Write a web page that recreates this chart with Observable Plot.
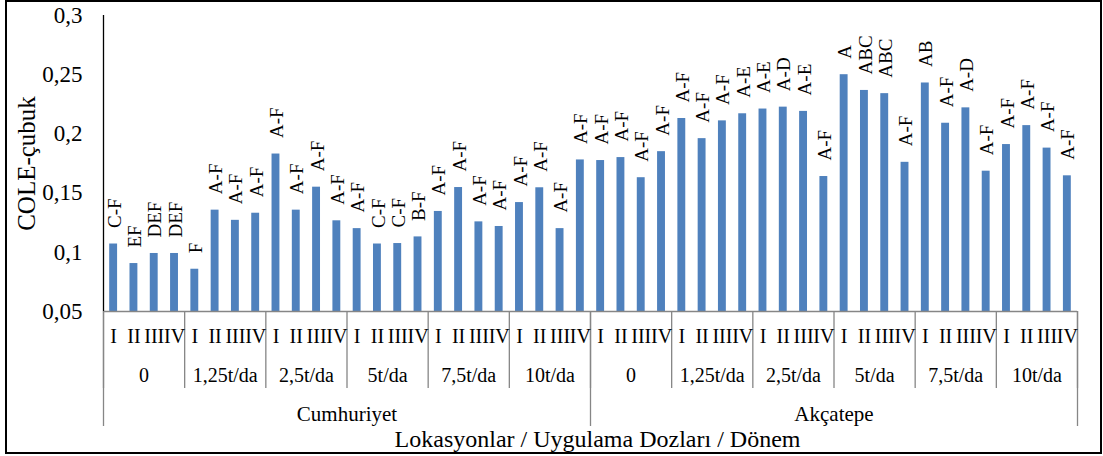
<!DOCTYPE html>
<html><head><meta charset="utf-8">
<script src="https://cdn.jsdelivr.net/npm/d3@7"></script>
<script src="https://cdn.jsdelivr.net/npm/@observablehq/plot@0.6"></script>
<style>
body{margin:0;background:#fff;}
#wrap{position:relative;width:1103px;height:456px;overflow:hidden;}
#wrap svg{position:absolute;left:0;top:0;}
#wrap svg, #wrap svg text, #wrap svg g {font-family:"Liberation Serif","Times New Roman",serif !important;}
#border{position:absolute;left:5px;top:0;width:1097px;height:454px;box-sizing:border-box;border:2px solid #000;pointer-events:none;}
</style></head><body><div id="wrap"><div id="border"></div></div>
<script>
const locations = ["Cumhuriyet", "Akçatepe"];
const doses = ["0", "1,25t/da", "2,5t/da", "5t/da", "7,5t/da", "10t/da"];
const periods = ["I", "II", "III", "IV"];
const cumhuriyetValues = [0.107, 0.0905, 0.099, 0.099, 0.0857, 0.1356, 0.127, 0.133, 0.183, 0.1356, 0.155, 0.1266, 0.120, 0.107, 0.1074, 0.113, 0.1345, 0.1547, 0.1257, 0.1218, 0.142, 0.1545, 0.120, 0.178];
const akcatepeValues = [0.1775, 0.180, 0.163, 0.185, 0.213, 0.196, 0.211, 0.217, 0.221, 0.2226, 0.219, 0.164, 0.250, 0.2367, 0.234, 0.176, 0.243, 0.209, 0.222, 0.1685, 0.191, 0.207, 0.188, 0.1646];
const cumhuriyetLetters = ["C-F","EF","DEF","DEF","F","A-F","A-F","A-F","A-F","A-F","A-F","A-F","A-F","C-F","C-F","B-F","A-F","A-F","A-F","A-F","A-F","A-F","A-F","A-F"];
const akcatepeLetters = ["A-F","A-F","A-F","A-F","A-F","A-F","A-F","A-E","A-E","A-D","A-E","A-F","A","ABC","ABC","A-F","AB","A-F","A-D","A-F","A-F","A-F","A-F","A-F"];
const yTicks = [0.05, 0.1, 0.15, 0.2, 0.25, 0.3];
const yTitle = "COLE-çubuk";
const xTitle = "Lokasyonlar / Uygulama Dozları / Dönem";

const valuesByLoc = [cumhuriyetValues, akcatepeValues];
const lettersByLoc = [cumhuriyetLetters, akcatepeLetters];
const data = [];
locations.forEach((loc, li) => doses.forEach((dose, di) => periods.forEach((p, pi) => {
  const k = di * periods.length + pi;
  data.push({i: data.length, location: loc, dose, period: p, value: valuesByLoc[li][k], letter: lettersByLoc[li][k]});
})));
const nBars = data.length;
const doseGroups = [];
locations.forEach((loc, li) => doses.forEach((dose, di) => doseGroups.push({start: (li * doses.length + di) * periods.length, label: dose})));
const locGroups = locations.map((loc, li) => ({start: li * doses.length * periods.length, label: loc}));
const doseBounds = doseGroups.map(d => d.start).concat([nBars]);
const locBounds = locGroups.map(d => d.start).concat([nBars]);
const yMin = yTicks[0], yMax = yTicks[yTicks.length - 1];
const fmt = d => String(d).replace(".", ",");
const grey = "#868686";
const font = "Liberation Serif";

const chart = Plot.plot({
  width: 1103, height: 456,
  marginLeft: 103, marginRight: 26, marginTop: 15, marginBottom: 145,
  style: {fontFamily: font, color: "#000", background: "transparent", overflow: "visible"},
  x: {domain: [0, nBars]},
  y: {domain: [yMin, yMax]},
  marks: [
    Plot.rect(data, {x1: "i", x2: d => d.i + 1, y1: () => yMin, y2: "value", insetLeft: 6.2, insetRight: 6.2, fill: "#4f81bd"}),
    Plot.ruleY([yMin], {stroke: grey, strokeWidth: 1.3}),
    Plot.ruleX([0], {stroke: "#000", strokeWidth: 1.3}),
    Plot.text(data, {x: d => d.i + 0.5, y: "value", text: "letter", rotate: -90, textAnchor: "start", lineAnchor: "middle", dy: -16, dx: 1, fontSize: 19, fontFamily: font, fill: "#000"}),
    Plot.axisY({ticks: yTicks, tickSize: 0, tickPadding: 21, tickFormat: fmt, fontSize: 23, fontFamily: font, label: null}),
    Plot.axisX({ticks: doseBounds, tickSize: 77, tickFormat: () => "", stroke: grey, strokeWidth: 1.3, label: null}),
    Plot.axisX({ticks: locBounds, tickSize: 115, tickFormat: () => "", stroke: grey, strokeWidth: 1.3, label: null}),
    Plot.text(data, {x: d => d.i + 0.5, text: "period", frameAnchor: "bottom", dy: 25, lineAnchor: "middle", fontSize: 20, fontFamily: font, fill: "#000"}),
    Plot.text(doseGroups, {x: d => d.start + periods.length / 2, text: "label", frameAnchor: "bottom", dy: 64, lineAnchor: "middle", fontSize: 20, fontFamily: font, fill: "#000"}),
    Plot.text(locGroups, {x: d => d.start + doses.length * periods.length / 2, text: "label", frameAnchor: "bottom", dy: 102.5, lineAnchor: "middle", fontSize: 21, fontFamily: font, fill: "#000"}),
    Plot.text([xTitle], {text: d => d, frameAnchor: "bottom", dx: 7, dy: 127.5, lineAnchor: "middle", fontSize: 24, fontFamily: font, fill: "#000"}),
    Plot.text([yTitle], {text: d => d, y: () => (yMin + yMax) / 2, frameAnchor: "left", dx: -77, rotate: -90, textAnchor: "middle", lineAnchor: "middle", fontSize: 25, fontFamily: font, fill: "#000"})
  ]
});
const wrap = document.getElementById("wrap");
wrap.insertBefore(chart, document.getElementById("border"));
</script></body></html>
